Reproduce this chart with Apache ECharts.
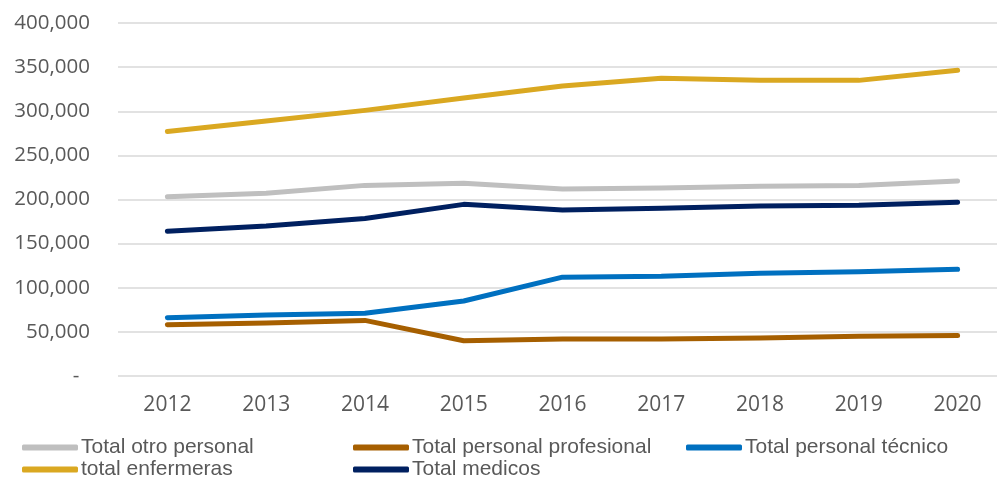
<!DOCTYPE html>
<html>
<head>
<meta charset="utf-8">
<script src="https://cdn.jsdelivr.net/npm/echarts@6/dist/echarts.min.js"></script>
<style>
  html, body { margin: 0; padding: 0; background: #fff; overflow: hidden; }
  /* el area de trazado sigue mas alla del borde derecho, como en el original */
  #main { width: 1007px; height: 480px; }
</style>
</head>
<body>
<div id="main"></div>
<script>
// datos
var years = ['2012', '2013', '2014', '2015', '2016', '2017', '2018', '2019', '2020'];
var otroPersonal = [203000, 207000, 216000, 218500, 212000, 213000, 215000, 216000, 221000];
var personalProfesional = [58000, 60000, 63000, 40000, 42000, 42000, 43000, 45000, 46000];
var personalTecnico = [66000, 69000, 71000, 85000, 112000, 113000, 116500, 118000, 121000];
var enfermeras = [277000, 289000, 301000, 315000, 328500, 337500, 335000, 335000, 346500];
var medicos = [164000, 170000, 178500, 194500, 188000, 190000, 192500, 193500, 197000];

var names = ['Total otro personal', 'Total personal profesional', 'Total personal técnico', 'total enfermeras', 'Total medicos'];
var colors = ['#BFBFBF', '#A65F00', '#0070C0', '#DAA821', '#002060'];
var values = [otroPersonal, personalProfesional, personalTecnico, enfermeras, medicos];

var legendPos = [[22, 437], [353, 437], [686, 437], [22, 459], [353, 459]];

var myChart = echarts.init(document.getElementById('main'));

var option = {
    animation: false,
    grid: {
        left: 118,
        top: 23,
        right: 0,
        bottom: 104
    },
    xAxis: {
        type: 'category',
        data: years,
        axisLine: { show: false },
        axisTick: { show: false },
        axisLabel: {
            margin: 19,
            fontFamily: 'Open Sans',
            fontSize: 21,
            color: '#595959'
        }
    },
    yAxis: {
        type: 'value',
        min: 0,
        max: 400000,
        interval: 50000,
        axisLine: { show: false },
        axisTick: { show: false },
        axisLabel: {
            margin: 28,
            fontFamily: 'Open Sans',
            fontSize: 20.5,
            color: '#595959',
            formatter: function (v) {
                return v === 0 ? '-  ' : v.toLocaleString('en-US');
            }
        },
        splitLine: {
            lineStyle: { color: '#D9D9D9', width: 1.5 }
        }
    },
    legend: names.map(function (n, i) {
        return {
            data: [n],
            left: legendPos[i][0],
            top: legendPos[i][1],
            padding: 0,
            itemWidth: 56,
            itemHeight: 6,
            icon: 'roundRect',
            textStyle: {
                fontFamily: 'Liberation Sans',
                fontSize: 21,
                color: '#595959',
                padding: [0, 0, 0, -2]
            }
        };
    }),
    series: names.map(function (n, i) {
        return {
            name: n,
            type: 'line',
            data: values[i],
            symbol: 'none',
            color: colors[i],
            lineStyle: { width: 5, color: colors[i], cap: 'round', join: 'round' }
        };
    })
};

myChart.setOption(option);
</script>
</body>
</html>
